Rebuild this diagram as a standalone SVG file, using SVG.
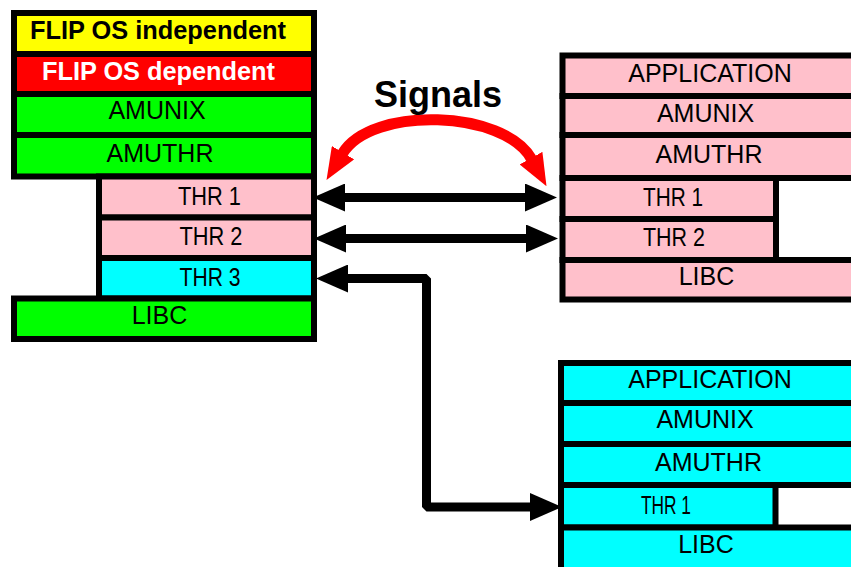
<svg xmlns="http://www.w3.org/2000/svg" width="851" height="567" viewBox="0 0 851 567">
  <style>
    .layer { stroke: #000; stroke-width: 6; }
    .yel { fill: #ffff00; }
    .red { fill: #ff0000; }
    .grn { fill: #00ff00; }
    .pnk { fill: #ffc0cb; }
    .cyn { fill: #00ffff; }
    text { font-family: "Liberation Sans", Arial, sans-serif; font-size: 25px; fill: #000; text-anchor: middle; }
    .bold { font-weight: bold; }
    .white { fill: #fff; }
    .sig { font-size: 36px; font-weight: bold; }
    .link { fill: none; stroke: #000; stroke-width: 9; stroke-linejoin: bevel; }
    .signal { fill: none; stroke: #ff0000; stroke-width: 11; }
  </style>
  <defs>
    <marker id="head" viewBox="0 0 32 28" markerWidth="32" markerHeight="28" refX="1" refY="14" orient="auto-start-reverse" markerUnits="userSpaceOnUse">
      <path d="M0,0 L32,14 L0,28 Z" fill="#000"/>
    </marker>
    <marker id="redhead" viewBox="0 0 32 26" markerWidth="32" markerHeight="26" refX="1" refY="13" orient="auto-start-reverse" markerUnits="userSpaceOnUse">
      <path d="M0,0 L32,13 L0,26 Z" fill="#ff0000"/>
    </marker>
  </defs>

  <!-- host stack on the left -->
  <g id="left-flip-independent"><rect class="layer yel" x="14" y="13" width="300" height="41"/><text class="bold" x="158" y="39" textLength="256" lengthAdjust="spacingAndGlyphs">FLIP OS independent</text></g>
  <g id="left-flip-dependent"><rect class="layer red" x="14" y="54" width="300" height="40"/><text class="bold white" x="158.5" y="80" textLength="233" lengthAdjust="spacingAndGlyphs">FLIP OS dependent</text></g>
  <g id="left-amunix"><rect class="layer grn" x="14" y="94" width="300" height="41"/><text x="157" y="119">AMUNIX</text></g>
  <g id="left-amuthr"><rect class="layer grn" x="14" y="135" width="300" height="41.5"/><text x="160" y="162">AMUTHR</text></g>
  <g id="left-thr1"><rect class="layer pnk" x="99" y="176.5" width="215" height="41"/><text x="209.5" y="205" textLength="63" lengthAdjust="spacingAndGlyphs">THR 1</text></g>
  <g id="left-thr2"><rect class="layer pnk" x="99" y="217.5" width="215" height="40.5"/><text x="211" y="245" textLength="63" lengthAdjust="spacingAndGlyphs">THR 2</text></g>
  <g id="left-thr3"><rect class="layer cyn" x="99" y="258" width="215" height="40.5"/><text x="210" y="286" textLength="61" lengthAdjust="spacingAndGlyphs">THR 3</text></g>
  <g id="left-libc"><rect class="layer grn" x="14" y="298.5" width="300" height="40.5"/><text x="159.5" y="324">LIBC</text></g>

  <!-- upper right stack -->
  <g id="pink-application"><rect class="layer pnk" x="562.5" y="55.5" width="295" height="40.5"/><text x="710" y="82">APPLICATION</text></g>
  <g id="pink-amunix"><rect class="layer pnk" x="562.5" y="96" width="295" height="39"/><text x="705.5" y="122">AMUNIX</text></g>
  <g id="pink-amuthr"><rect class="layer pnk" x="562.5" y="135" width="295" height="43"/><text x="709" y="163">AMUTHR</text></g>
  <g id="pink-thr1"><rect class="layer pnk" x="562.5" y="178" width="213.5" height="41"/><text x="673" y="206" textLength="60" lengthAdjust="spacingAndGlyphs">THR 1</text></g>
  <g id="pink-thr2"><rect class="layer pnk" x="562.5" y="219" width="213.5" height="41"/><text x="674" y="246" textLength="62" lengthAdjust="spacingAndGlyphs">THR 2</text></g>
  <g id="pink-libc"><rect class="layer pnk" x="562.5" y="260" width="295" height="39.5"/><text x="706.5" y="285">LIBC</text></g>

  <!-- lower right stack -->
  <g id="cyan-application"><rect class="layer cyn" x="561" y="363" width="297" height="40"/><text x="710" y="388">APPLICATION</text></g>
  <g id="cyan-amunix"><rect class="layer cyn" x="561" y="403" width="297" height="41"/><text x="705" y="428">AMUNIX</text></g>
  <g id="cyan-amuthr"><rect class="layer cyn" x="561" y="444" width="297" height="41"/><text x="708.5" y="471">AMUTHR</text></g>
  <g id="cyan-thr1"><rect class="layer cyn" x="561" y="485" width="214.5" height="42.5"/><text x="666" y="514" font-size="22" textLength="50" lengthAdjust="spacingAndGlyphs">THR 1</text></g>
  <g id="cyan-libc"><rect class="layer cyn" x="561" y="527.5" width="297" height="45"/><text x="706" y="553">LIBC</text></g>

  <!-- connectors -->
  <g id="connectors">
    <line class="link" x1="344" y1="197.5" x2="526" y2="197.5" marker-start="url(#head)" marker-end="url(#head)"/>
    <line class="link" x1="345" y1="238.5" x2="527" y2="238.5" marker-start="url(#head)" marker-end="url(#head)"/>
    <path class="link" d="M347,278.5 H426.5 V507 H531" marker-start="url(#head)" marker-end="url(#head)"/>
    <path class="signal" d="M342.5,153.5 C371.4,105.4 504.4,110 531.5,159" marker-start="url(#redhead)" marker-end="url(#redhead)"/>
    <text class="sig" x="438" y="107">Signals</text>
  </g>
</svg>
